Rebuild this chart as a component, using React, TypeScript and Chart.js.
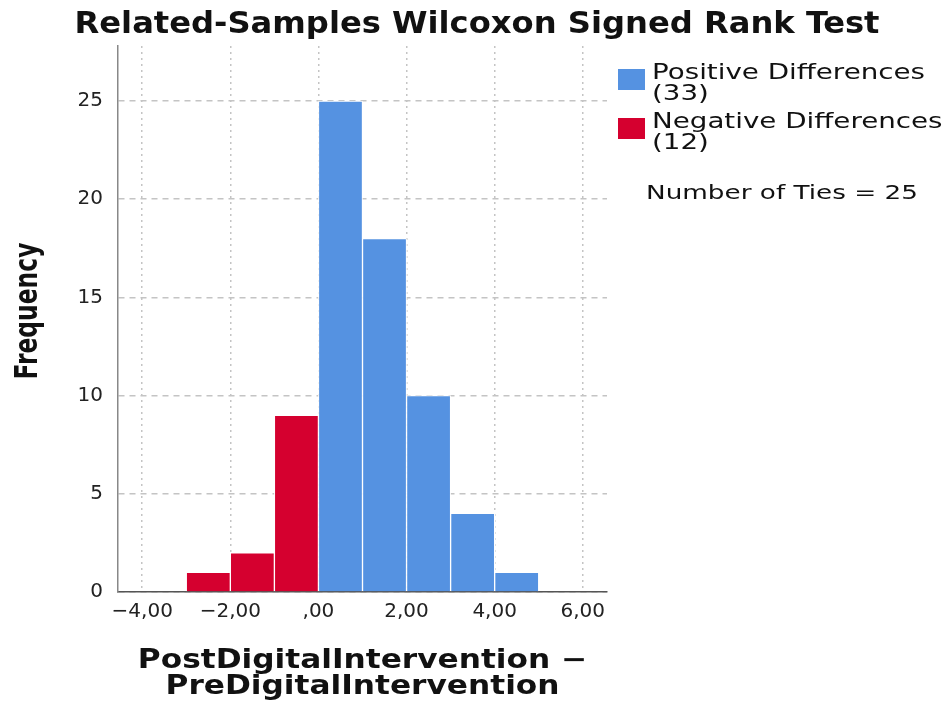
import React, { useEffect, useRef } from 'react';
import { Chart, registerables } from 'chart.js';

Chart.register(...registerables);

const titleText = 'Related-Samples Wilcoxon Signed Rank Test';
const xAxisTitle = ['PostDigitalIntervention −', 'PreDigitalIntervention'];
const yAxisTitle = 'Frequency';
const negativeBinCenters = [-2.5, -1.5, -0.5];
const negativeCounts = [1, 2, 9];
const positiveBinCenters = [0.5, 1.5, 2.5, 3.5, 4.5];
const positiveCounts = [25, 18, 10, 4, 1];
const xTicks = [-4, -2, 0, 2, 4, 6];
const yTicks = [0, 5, 10, 15, 20, 25];
const seriesNames = ['Positive Differences', 'Negative Differences'];
const seriesTotals = [33, 12];
const numberOfTies = 25;

const BLUE = '#5592e1';
const RED = '#d5002f';

function fmtX(v: number): string {
  const a = Math.abs(v);
  const s = (a === 0 ? '' : String(a)) + ',00';
  return v < 0 ? '−' + s : s;
}

function stretchedText(
  ctx: CanvasRenderingContext2D,
  text: string,
  x: number,
  y: number,
  sx: number,
  align: 'left' | 'center'
) {
  ctx.save();
  ctx.translate(x, y);
  ctx.scale(sx, 1);
  ctx.textAlign = align;
  ctx.fillText(text, 0, 0);
  ctx.restore();
}

const overlayPlugin = {
  id: 'overlay',
  afterDraw(chart: any) {
    const ctx = chart.ctx as CanvasRenderingContext2D;
    ctx.save();
    ctx.fillStyle = '#111';
    ctx.textBaseline = 'alphabetic';

    // chart title
    ctx.font = 'bold 30px "DejaVu Sans Condensed"';
    const tw = ctx.measureText(titleText).width;
    stretchedText(ctx, titleText, 477, 33, 805 / tw, 'center');

    // x axis title
    const xs = chart.scales.x;
    const cx = (xs.left + xs.right) / 2;
    ctx.font = 'bold 26px "DejaVu Sans"';
    stretchedText(ctx, xAxisTitle[0], cx, 668, 1.2, 'center');
    stretchedText(ctx, xAxisTitle[1], cx, 694, 1.2, 'center');

    // y axis title (rotated)
    ctx.save();
    ctx.translate(37, 311);
    ctx.rotate(-Math.PI / 2);
    ctx.scale(1, 1.2);
    ctx.font = 'bold 26px "DejaVu Sans Condensed"';
    ctx.textAlign = 'center';
    ctx.fillText(yAxisTitle, 0, 0);
    ctx.restore();

    // legend
    ctx.font = '22px "DejaVu Sans"';
    const lw = ctx.measureText(seriesNames[0]).width;
    const ls = 273 / lw;
    const colors = [BLUE, RED];
    const tops = [69, 118];
    for (let i = 0; i < seriesNames.length; i++) {
      ctx.fillStyle = colors[i];
      ctx.fillRect(618, tops[i], 27, 21);
      ctx.fillStyle = '#111';
      stretchedText(ctx, seriesNames[i], 652, tops[i] + 10, ls, 'left');
      stretchedText(ctx, '(' + seriesTotals[i] + ')', 652, tops[i] + 31, ls, 'left');
    }

    // ties
    ctx.font = '19px "DejaVu Sans"';
    const tiesText = 'Number of Ties = ' + numberOfTies;
    const nw = ctx.measureText(tiesText).width;
    stretchedText(ctx, tiesText, 646, 199, 272 / nw, 'left');
    ctx.restore();
  },
};

export default function App() {
  const ref = useRef<HTMLCanvasElement | null>(null);
  useEffect(() => {
    if (!ref.current) return;
    const common = {
      borderColor: '#ffffff',
      borderWidth: 1,
      barPercentage: 1,
      categoryPercentage: 1,
      grouped: false,
    };
    const chart = new Chart(ref.current, {
      type: 'bar',
      data: {
        datasets: [
          {
            label: seriesNames[0],
            data: positiveBinCenters.map((x, i) => ({ x, y: positiveCounts[i] })),
            backgroundColor: BLUE,
            ...common,
          },
          {
            label: seriesNames[1],
            data: negativeBinCenters.map((x, i) => ({ x, y: negativeCounts[i] })),
            backgroundColor: RED,
            ...common,
          },
        ],
      },
      options: {
        responsive: false,
        animation: false,
        layout: { padding: { top: 46, right: 338, bottom: 0, left: 0 } },
        plugins: {
          legend: { display: false },
          title: { display: false },
          tooltip: { enabled: false },
        },
        scales: {
          x: {
            type: 'linear',
            offset: false,
            min: -4.55,
            max: 6.55,
            afterBuildTicks: (s: any) => {
              s.ticks = xTicks.map((v) => ({ value: v }));
            },
            afterFit: (s: any) => {
              s.height = 111;
            },
            grid: { offset: false, color: '#c4c4c4', lineWidth: 1.5, drawTicks: false },
            border: { color: '#555', width: 1.5, dash: [2, 4] },
            ticks: {
              padding: 8,
              color: '#222',
              font: { family: '"DejaVu Sans"', size: 20 },
              callback: (v: any) => fmtX(Number(v)),
              maxRotation: 0,
              autoSkip: false,
            },
            title: { display: false, text: xAxisTitle },
          },
          y: {
            min: 0,
            max: 27.8,
            afterBuildTicks: (s: any) => {
              s.ticks = yTicks.map((v) => ({ value: v }));
            },
            afterFit: (s: any) => {
              s.width = 118;
            },
            grid: { color: '#c4c4c4', lineWidth: 1.5, drawTicks: false },
            border: { color: '#888', width: 1.5, dash: [6, 5] },
            ticks: {
              padding: 15,
              color: '#222',
              font: { family: '"DejaVu Sans"', size: 20 },
            },
            title: { display: false, text: yAxisTitle },
          },
        },
      },
      plugins: [overlayPlugin],
    } as any);
    return () => chart.destroy();
  }, []);
  return (
    <div style={{ position: 'fixed', left: 0, top: 0, width: 945, height: 703, background: '#fff' }}>
      <canvas ref={ref} width={945} height={703} />
    </div>
  );
}
